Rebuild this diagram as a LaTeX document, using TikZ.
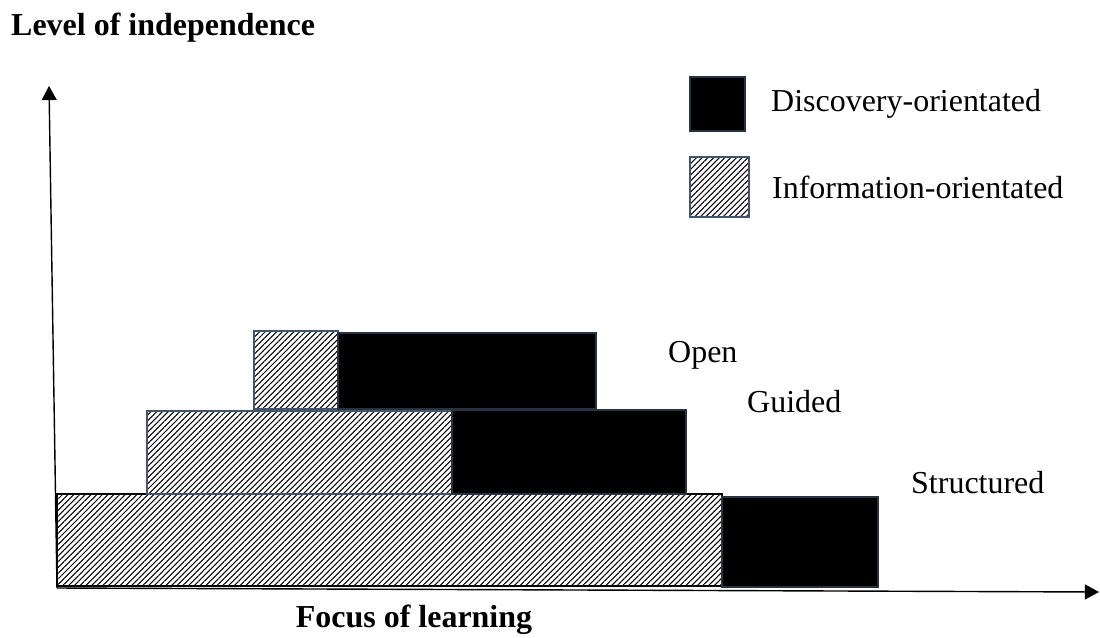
\documentclass[tikz,border=0pt]{standalone}
\usepackage{fontspec}
\setmainfont{Liberation Serif}
\usetikzlibrary{patterns.meta,arrows.meta}

\definecolor{edgegray}{HTML}{44546A}
\tikzset{
  infobox/.style={draw=edgegray, line width=1.2pt,
    pattern={Lines[angle=45, distance=2.3pt, line width=0.6pt]}},
  discbox/.style={draw=edgegray!60!black, line width=1.2pt, fill=black},
  lbl/.style={anchor=west, font=\fontsize{18.2}{21}\selectfont},
  axis/.style={line width=0.8pt, -{Triangle[length=8pt,width=8.5pt]}}
}

\begin{document}
\begin{tikzpicture}[x=0.02cm, y=-0.02cm]
        \useasboundingbox (0,0) rectangle (1100,637);

        % axes
        \coordinate (origin) at (57,588);
        \coordinate (ytop) at (49,86);
        \coordinate (xend) at (1099,592);
        \draw[axis] (origin) -- (ytop);
        \draw[axis] (origin) -- (xend);

        % structured
        \draw[infobox, draw=black] (57,494) rectangle (722,586);
        \draw[discbox] (722,497) rectangle (878,587);
        % guided
        \draw[infobox] (147,411) rectangle (452,494);
        \draw[discbox] (452,410) rectangle (686,494);
        % open
        \draw[infobox] (254,331) rectangle (338,409);
        \draw[discbox] (338,333) rectangle (596,409);

        % legend
        \draw[discbox] (690,77) rectangle (745,131);
        \draw[infobox] (690,157) rectangle (749,217);

        \node[lbl] at (765,104)(disc){Discovery-orientated};
        \node[lbl] at (766,187)(info){Information-orientated};
        \node[lbl] at (662,355)(open){Open};
        \node[lbl] at (741,402)(guided){Guided};
        \node[lbl] at (905,483)(struct){Structured};

        \node[lbl, font=\fontsize{18.2}{21}\selectfont\bfseries] at (5,28)(ylabel){Level of independence};
        \node[font=\fontsize{18.2}{21}\selectfont\bfseries] at (414,620)(xlabel){Focus of learning};
    \end{tikzpicture}
\end{document}
